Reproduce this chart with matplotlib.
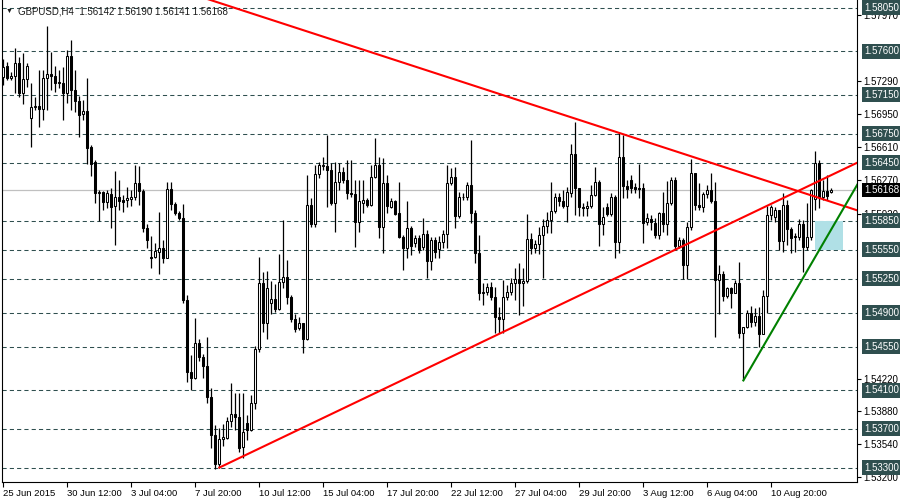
import numpy as np
import matplotlib.pyplot as plt
from matplotlib.transforms import blended_transform_factory
from matplotlib.patches import Rectangle

# GBPUSD H4 candles
opens = [1.5733,1.5745,1.5732,1.5735,1.5748,1.5717,1.5731,1.5691,1.5702,1.5703,
         1.5700,1.5732,1.5737,1.5734,1.5728,1.5727,1.5717,1.5755,1.5720,1.5709,
         1.5695,1.5698,1.5661,1.5646,1.5614,1.5615,1.5604,1.5613,1.5600,1.5610,
         1.5606,1.5606,1.5607,1.5610,1.5624,1.5616,1.5577,1.5548,1.5548,1.5553,
         1.5557,1.5547,1.5618,1.5602,1.5593,1.5588,1.5503,1.5429,1.5423,1.5459,
         1.5444,1.5435,1.5403,1.5364,1.5334,1.5360,1.5361,1.5378,1.5385,1.5382,
         1.5351,1.5376,1.5369,1.5397,1.5453,1.5521,1.5479,1.5500,1.5504,1.5494,
         1.5522,1.5527,1.5506,1.5483,1.5474,1.5479,1.5463,1.5601,1.5582,1.5633,
         1.5642,1.5642,1.5637,1.5603,1.5625,1.5635,1.5627,1.5614,1.5613,1.5584,
         1.5603,1.5606,1.5601,1.5630,1.5643,1.5578,1.5624,1.5599,1.5605,1.5593,
         1.5568,1.5557,1.5577,1.5562,1.5567,1.5558,1.5571,1.5543,1.5565,1.5556,
         1.5563,1.5571,1.5624,1.5630,1.5590,1.5609,1.5609,1.5622,1.5593,1.5552,
         1.5510,1.5511,1.5517,1.5506,1.5486,1.5483,1.5506,1.5511,1.5521,1.5525,
         1.5521,1.5523,1.5566,1.5557,1.5561,1.5570,1.5580,1.5586,1.5595,1.5610,
         1.5605,1.5600,1.5614,1.5654,1.5619,1.5599,1.5598,1.5600,1.5612,1.5625,
         1.5582,1.5599,1.5592,1.5610,1.5563,1.5651,1.5621,1.5627,1.5620,1.5619,
         1.5619,1.5584,1.5587,1.5583,1.5570,1.5593,1.5582,1.5603,1.5627,1.5559,
         1.5565,1.5539,1.5578,1.5634,1.5601,1.5599,1.5613,1.5617,1.5605,1.5524,
         1.5530,1.5507,1.5515,1.5510,1.5521,1.5469,1.5475,1.5490,1.5480,1.5487,
         1.5468,1.5507,1.5591,1.5589,1.5596,1.5564,1.5601,1.5576,1.5569,1.5568,
         1.5582,1.5558,1.5568,1.5607,1.5645,1.5609,1.5616,1.56142]
highs = [1.5752,1.5749,1.5739,1.5763,1.5754,1.5758,1.5748,1.5727,1.5713,1.5741,
         1.5741,1.5786,1.5759,1.5745,1.5741,1.5744,1.5761,1.5772,1.5741,1.5714,
         1.5710,1.5732,1.5663,1.5648,1.5617,1.5616,1.5617,1.5619,1.5636,1.5627,
         1.5612,1.5620,1.5617,1.5643,1.5642,1.5618,1.5582,1.5569,1.5562,1.5594,
         1.5565,1.5625,1.5625,1.5604,1.5595,1.5602,1.5508,1.5446,1.5484,1.5463,
         1.5447,1.5465,1.5412,1.5374,1.5371,1.5375,1.5382,1.5417,1.5407,1.5407,
         1.5407,1.5384,1.5405,1.5456,1.5548,1.5532,1.5533,1.5523,1.5520,1.5551,
         1.5586,1.5544,1.5508,1.5489,1.5486,1.5479,1.5632,1.5608,1.5643,1.5646,
         1.5651,1.5674,1.5645,1.5646,1.5645,1.5640,1.5648,1.5648,1.5627,1.5627,
         1.5627,1.5608,1.5643,1.5670,1.5651,1.5650,1.5632,1.5608,1.5606,1.5625,
         1.5570,1.5605,1.5580,1.5570,1.5570,1.5588,1.5575,1.5568,1.5568,1.5569,
         1.5575,1.5643,1.5639,1.5640,1.5615,1.5614,1.5625,1.5668,1.5596,1.5570,
         1.5521,1.5521,1.5522,1.5517,1.5496,1.5524,1.5519,1.5526,1.5536,1.5541,
         1.5536,1.5592,1.5572,1.5565,1.5578,1.5587,1.5594,1.5625,1.5614,1.5614,
         1.5617,1.5620,1.5664,1.5687,1.5619,1.5603,1.5605,1.5622,1.5640,1.5627,
         1.5599,1.5603,1.5614,1.5612,1.5677,1.5674,1.5627,1.5632,1.5624,1.5644,
         1.5624,1.5593,1.5591,1.5588,1.5594,1.5615,1.5626,1.5630,1.5630,1.5568,
         1.5567,1.5584,1.5649,1.5634,1.5624,1.5615,1.5622,1.5634,1.5625,1.5539,
         1.5533,1.5517,1.5517,1.5524,1.5542,1.5475,1.5493,1.5497,1.5495,1.5496,
         1.5513,1.5600,1.5601,1.5599,1.5596,1.5614,1.5606,1.5579,1.5572,1.5587,
         1.5586,1.5603,1.5618,1.5657,1.5648,1.5627,1.5632,1.56190]
lows = [1.5725,1.5730,1.5730,1.5717,1.5713,1.5706,1.5723,1.5661,1.5699,1.5682,
        1.5689,1.5699,1.5720,1.5718,1.5722,1.5689,1.5707,1.5699,1.5697,1.5671,
        1.5689,1.5644,1.5631,1.5603,1.5585,1.5596,1.5598,1.5577,1.5560,1.5596,
        1.5594,1.5599,1.5600,1.5606,1.5601,1.5573,1.5557,1.5536,1.5546,1.5530,
        1.5541,1.5546,1.5596,1.5591,1.5586,1.5500,1.5418,1.5410,1.5422,1.5440,
        1.5423,1.5397,1.5350,1.5329,1.5330,1.5352,1.5360,1.5372,1.5369,1.5346,
        1.5340,1.5359,1.5368,1.5390,1.5449,1.5470,1.5463,1.5489,1.5491,1.5493,
        1.5516,1.5499,1.5480,1.5470,1.5472,1.5448,1.5462,1.5579,1.5579,1.5629,
        1.5637,1.5599,1.5601,1.5573,1.5617,1.5624,1.5607,1.5609,1.5558,1.5573,
        1.5593,1.5599,1.5600,1.5629,1.5567,1.5552,1.5593,1.5598,1.5591,1.5567,
        1.5534,1.5547,1.5550,1.5558,1.5552,1.5555,1.5526,1.5534,1.5546,1.5547,
        1.5557,1.5557,1.5622,1.5577,1.5588,1.5606,1.5606,1.5583,1.5541,1.5503,
        1.5498,1.5508,1.5503,1.5469,1.5469,1.5469,1.5503,1.5508,1.5503,1.5488,
        1.5497,1.5521,1.5551,1.5552,1.5551,1.5526,1.5572,1.5572,1.5593,1.5600,
        1.5598,1.5584,1.5610,1.5591,1.5590,1.5590,1.5590,1.5598,1.5611,1.5559,
        1.5570,1.5590,1.5590,1.5546,1.5552,1.5608,1.5608,1.5614,1.5614,1.5608,
        1.5562,1.5581,1.5575,1.5567,1.5566,1.5573,1.5570,1.5601,1.5555,1.5557,
        1.5525,1.5525,1.5575,1.5596,1.5596,1.5594,1.5608,1.5603,1.5465,1.5489,
        1.5502,1.5505,1.5495,1.5510,1.5464,1.5420,1.5474,1.5475,1.5476,1.5455,
        1.5468,1.5490,1.5586,1.5584,1.5555,1.5553,1.5560,1.5552,1.5553,1.5565,
        1.5532,1.5555,1.5565,1.5596,1.5598,1.5606,1.5606,1.56141]
closes = [1.5744,1.5732,1.5735,1.5748,1.5717,1.5731,1.5745,1.5702,1.5703,1.5700,
          1.5732,1.5737,1.5734,1.5727,1.5727,1.5717,1.5755,1.5720,1.5709,1.5694,
          1.5698,1.5660,1.5644,1.5614,1.5615,1.5604,1.5614,1.5599,1.5610,1.5605,
          1.5604,1.5608,1.5610,1.5624,1.5616,1.5577,1.5565,1.5547,1.5554,1.5557,
          1.5547,1.5618,1.5602,1.5593,1.5588,1.5503,1.5429,1.5423,1.5459,1.5444,
          1.5435,1.5403,1.5364,1.5334,1.5360,1.5362,1.5378,1.5385,1.5382,1.5350,
          1.5367,1.5369,1.5397,1.5453,1.5521,1.5479,1.5515,1.5504,1.5494,1.5522,
          1.5527,1.5506,1.5483,1.5473,1.5479,1.5463,1.5601,1.5582,1.5633,1.5643,
          1.5642,1.5637,1.5603,1.5625,1.5635,1.5627,1.5614,1.5613,1.5584,1.5605,
          1.5606,1.5601,1.5630,1.5643,1.5578,1.5624,1.5600,1.5605,1.5592,1.5568,
          1.5557,1.5577,1.5559,1.5567,1.5555,1.5571,1.5543,1.5565,1.5553,1.5563,
          1.5571,1.5624,1.5630,1.5590,1.5610,1.5610,1.5622,1.5593,1.5552,1.5510,
          1.5511,1.5517,1.5506,1.5486,1.5483,1.5506,1.5511,1.5521,1.5525,1.5521,
          1.5523,1.5566,1.5557,1.5561,1.5570,1.5580,1.5586,1.5595,1.5610,1.5605,
          1.5600,1.5615,1.5654,1.5619,1.5599,1.5598,1.5600,1.5612,1.5625,1.5582,
          1.5589,1.5592,1.5610,1.5563,1.5651,1.5621,1.5618,1.5619,1.5618,1.5618,
          1.5583,1.5588,1.5584,1.5570,1.5593,1.5582,1.5603,1.5627,1.5559,1.5565,
          1.5539,1.5578,1.5634,1.5601,1.5599,1.5613,1.5617,1.5605,1.5524,1.5530,
          1.5507,1.5515,1.5510,1.5521,1.5469,1.5475,1.5490,1.5480,1.5487,1.5468,
          1.5507,1.5591,1.5599,1.5596,1.5564,1.5601,1.5576,1.5567,1.5568,1.5582,
          1.5558,1.5568,1.5617,1.5645,1.5609,1.5616,1.5611,1.56168]

# horizontal levels (dashed, boxed labels) and plain price scale labels
levels = [1.58050, 1.57600, 1.57150, 1.56750, 1.56450, 1.55850, 1.55550,
          1.55250, 1.54900, 1.54550, 1.54100, 1.53700, 1.53300]
scale_prices = [1.57970, 1.57290, 1.56950, 1.56610, 1.56270, 1.55920,
                1.54220, 1.53880, 1.53540, 1.53200]
bid = 1.56168

# time axis labels every 16 bars
date_bars = [0, 16, 32, 48, 64, 80, 96, 112, 128, 144, 160, 176, 192]
date_labels = ["25 Jun 2015", "30 Jun 12:00", "3 Jul 04:00", "7 Jul 20:00",
               "10 Jul 12:00", "15 Jul 04:00", "17 Jul 20:00", "22 Jul 12:00",
               "27 Jul 04:00", "29 Jul 20:00", "3 Aug 12:00", "6 Aug 04:00",
               "10 Aug 20:00"]

# trend lines (bar index, price)
down_x, down_y = [50, 214], [1.58154, 1.5595]
up_x, up_y = [54, 214], [1.5330, 1.5646]
green_x, green_y = [185, 214], [1.5420, 1.5626]
# light blue zone
zone_x = [202.9, 209.9]
zone_y = [1.5555, 1.5585]

plt.rcParams['font.family'] = ['Liberation Sans', 'DejaVu Sans']

fig = plt.figure(figsize=(9, 5), dpi=100)
ax = fig.add_axes([2/900, 18/500, 855/900, 482/500])

n = len(closes)
x = np.arange(n)
o = np.array(opens); h = np.array(highs); l = np.array(lows); c = np.array(closes)

for lv in levels:
    ax.axhline(lv, color='#2f4f4f', lw=0.75, ls=(0, (4, 3)), zorder=1)
ax.axhline(bid, color='#c0c0c0', lw=0.9, zorder=1)

ax.add_patch(Rectangle((zone_x[0], zone_y[0]), zone_x[1]-zone_x[0], zone_y[1]-zone_y[0],
                       facecolor='#b0e0e6', edgecolor='none', zorder=1.5))

# candles
ax.vlines(x, l, h, color='black', lw=0.9, zorder=2)
bull = c >= o
bottom = np.minimum(o, c)
height = np.maximum(np.abs(c - o), 0.00002)
ax.bar(x[bull], height[bull], bottom=bottom[bull], width=0.55, color='white',
       edgecolor='black', lw=0.75, zorder=3)
ax.bar(x[~bull], height[~bull], bottom=bottom[~bull], width=0.55, color='black',
       edgecolor='black', lw=0.75, zorder=3)

ax.plot(down_x, down_y, color='red', lw=1.5, zorder=4)
ax.plot(up_x, up_y, color='red', lw=1.5, zorder=4)
ax.plot(green_x, green_y, color='green', lw=1.5, zorder=4)

ax.set_xlim(-0.33, 213.4)
ax.set_ylim(1.53151, 1.5813)

for s in ['top']:
    ax.spines[s].set_visible(False)
for s in ['left', 'right', 'bottom']:
    ax.spines[s].set_linewidth(0.8)

ax.yaxis.tick_right()
ax.set_yticks(scale_prices)
ax.set_yticklabels(["%.5f" % p for p in scale_prices])
ax.tick_params(axis='y', direction='out', length=3, width=0.8, pad=1.5, labelsize=7)

ax.set_xticks(date_bars)
ax.set_xticklabels(date_labels, ha='left')
ax.tick_params(axis='x', direction='out', length=3.5, width=0.8, pad=1.5, labelsize=6.8)

tr = blended_transform_factory(ax.transAxes, ax.transData)
for lv in levels:
    ax.text(1.0082, lv, "%.5f" % lv, transform=tr, ha='left', va='center',
            fontsize=7, color='white',
            bbox=dict(boxstyle='square,pad=0.25', fc='#2f4f4f', ec='none'), clip_on=False)
ax.text(1.0082, bid, "%.5f" % bid, transform=tr, ha='left', va='center',
        fontsize=7, color='white',
        bbox=dict(boxstyle='square,pad=0.25', fc='black', ec='none'), clip_on=False)

fig.text(6/900, 1 - 11/500, "\u25bc", fontsize=5, color='#1a1a1a', va='center', ha='left')
fig.text(18/900, 1 - 11/500, "GBPUSD,H4  1.56142 1.56190 1.56141 1.56168",
         fontsize=7, color='#1a1a1a', va='center', ha='left')

fig.savefig("out.png", dpi=100)
